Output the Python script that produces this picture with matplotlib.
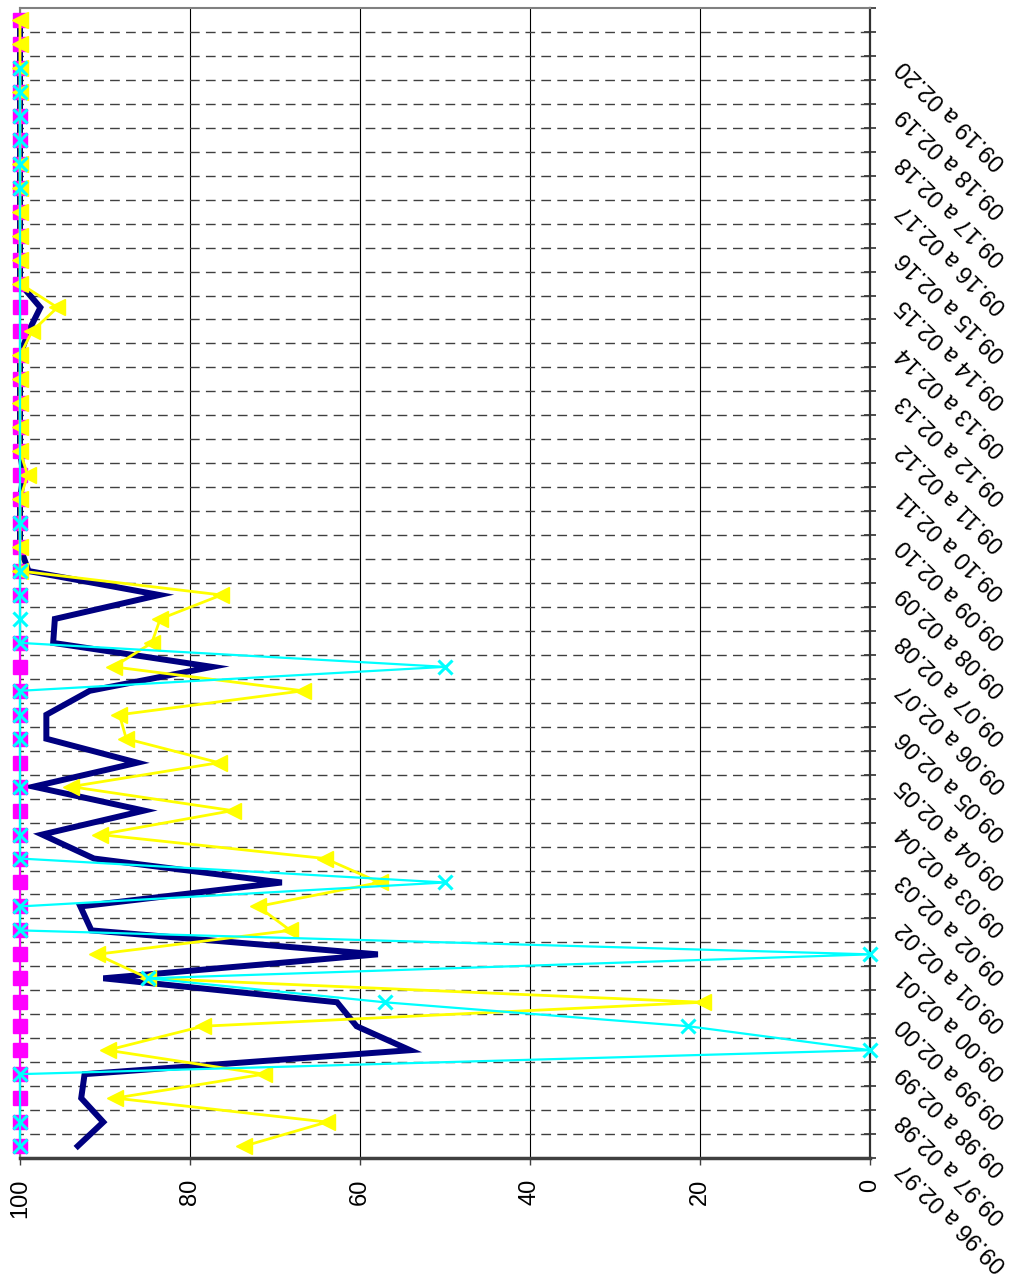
import matplotlib
matplotlib.use("Agg")
import matplotlib.pyplot as plt
import matplotlib.transforms as mtransforms
import numpy as np

plt.rcParams['font.family'] = ['Liberation Sans', 'DejaVu Sans']

nan = np.nan

# one value per period, bottom (first) to top (last)
navy_vals = [93.2, 90.2, 92.8, 92.4, 54.1, 60.4, 62.7, 90.2, 57.9, 91.6,
             92.9, 69.2, 91.3, 97.4, 85.4, 98.4, 86.2, 96.9, 96.9, 91.8,
             77.4, 96.1, 95.9, 83.6, 99.0, 100, 100, 100, 99.6, 100,
             100, 100, 100, 100, 99.0, 97.6, 100, 100, 100, 100,
             100, 100, 100, 100, 100, 100, 100, 100]
yellow_vals = [73.6, 63.9, 88.8, 71.3, 89.7, 78.5, 19.7, 84.9, 91.0, 68.2,
               72.0, 57.7, 64.1, 90.6, 75.0, 94.0, 76.6, 87.5, 88.3, 66.7,
               89.0, 84.5, 83.5, 76.3, 100, 100, nan, 100, 99.1, 100,
               100, 100, 100, 100, 98.6, 95.6, 100, 100, 100, 100,
               100, 100, nan, nan, 100, 100, 100, 100]
cyan_vals = [100, 100, nan, 100, 0, 21.4, 57.1, 84.9, 0, 100,
             100, 50, 100, 100, nan, 100, nan, 100, 100, 100,
             50, 100, 100, 100, 100, nan, 100, nan, nan, nan,
             nan, nan, nan, nan, nan, nan, nan, nan, nan, nan,
             100, 100, 100, 100, 100, 100, nan, nan]
magenta_vals = [100] * 22 + [nan] + [100] * 25

period_labels = ['09.96 a 02.97', '09.97 a 02.98', '09.98 a 02.99', '09.99 a 02.00',
                 '09.00 a 02.01', '09.01 a 02.02', '09.02 a 02.03', '09.03 a 02.04',
                 '09.04 a 02.05', '09.05 a 02.06', '09.06 a 02.07', '09.07 a 02.08',
                 '09.08 a 02.09', '09.09 a 02.10', '09.10 a 02.11', '09.11 a 02.12',
                 '09.12 a 02.13', '09.13 a 02.14', '09.14 a 02.15', '09.15 a 02.16',
                 '09.16 a 02.17', '09.17 a 02.18', '09.18 a 02.19', '09.19 a 02.20']
value_ticks = [0, 20, 40, 60, 80, 100]

W, H = 1021, 1276
fig = plt.figure(figsize=(W / 100, H / 100), dpi=100)
ax = fig.add_axes([20 / W, (H - 1158) / H, 850 / W, 1150 / H])

n = len(navy_vals)
cats = np.arange(n)
ax.set_xlim(100, 0)
ax.set_ylim(-0.5, n - 0.5)

# grid
ax.hlines(np.arange(0.5, n - 1, 1), 0, 100, colors='#404040',
          linestyles=(0, (7, 4.5)), lw=1, zorder=1)
ax.set_xticks(value_ticks)
ax.set_xticklabels([str(v) for v in value_ticks], rotation=90, fontsize=17, va='top')
ax.grid(axis='x', color='black', lw=0.8, zorder=1)
ax.set_axisbelow(True)


def draw(vals, **kw):
    v = np.array(vals, dtype=float)
    m = ~np.isnan(v)
    ax.plot(v[m], cats[m], clip_on=False, **kw)


draw(navy_vals, color='#000080', lw=4.3, solid_joinstyle='miter', zorder=3)
draw(magenta_vals, color='#FF00FF', lw=1.5, marker='s', ms=10.5, mec='#FF00FF', zorder=4)
draw(yellow_vals, color='#FFFF00', lw=2, marker='<', ms=12, mec='#FFFF00', zorder=5)
draw(cyan_vals, color='#00FFFF', lw=1.6, marker='x', ms=10.5, mew=2.2, zorder=6)

# axes styling
for side in ['top', 'left']:
    ax.spines[side].set_color('#808080')
    ax.spines[side].set_linewidth(1.5)
ax.spines['bottom'].set_color('#404040')
ax.spines['bottom'].set_linewidth(2.5)
ax.spines['right'].set_color('#303030')
ax.spines['right'].set_linewidth(1.6)

ax.tick_params(axis='x', direction='out', length=5, width=1, color='#404040', pad=10)
ax.yaxis.tick_right()
ax.set_yticks(np.arange(-0.5, n, 1))
ax.set_yticklabels([])
ax.tick_params(axis='y', direction='inout', length=9, width=1.2, color='#303030')

# period labels, every second period
base = mtransforms.blended_transform_factory(ax.transAxes, ax.transData)
trans = mtransforms.offset_copy(base, fig=fig, x=0.31, y=-0.19, units='inches')
for i, lab in enumerate(period_labels):
    ax.text(1.0, 2 * i, lab, transform=trans, rotation=135, rotation_mode='anchor',
            ha='right', va='center', fontsize=17)

fig.savefig('out.png', dpi=100)
